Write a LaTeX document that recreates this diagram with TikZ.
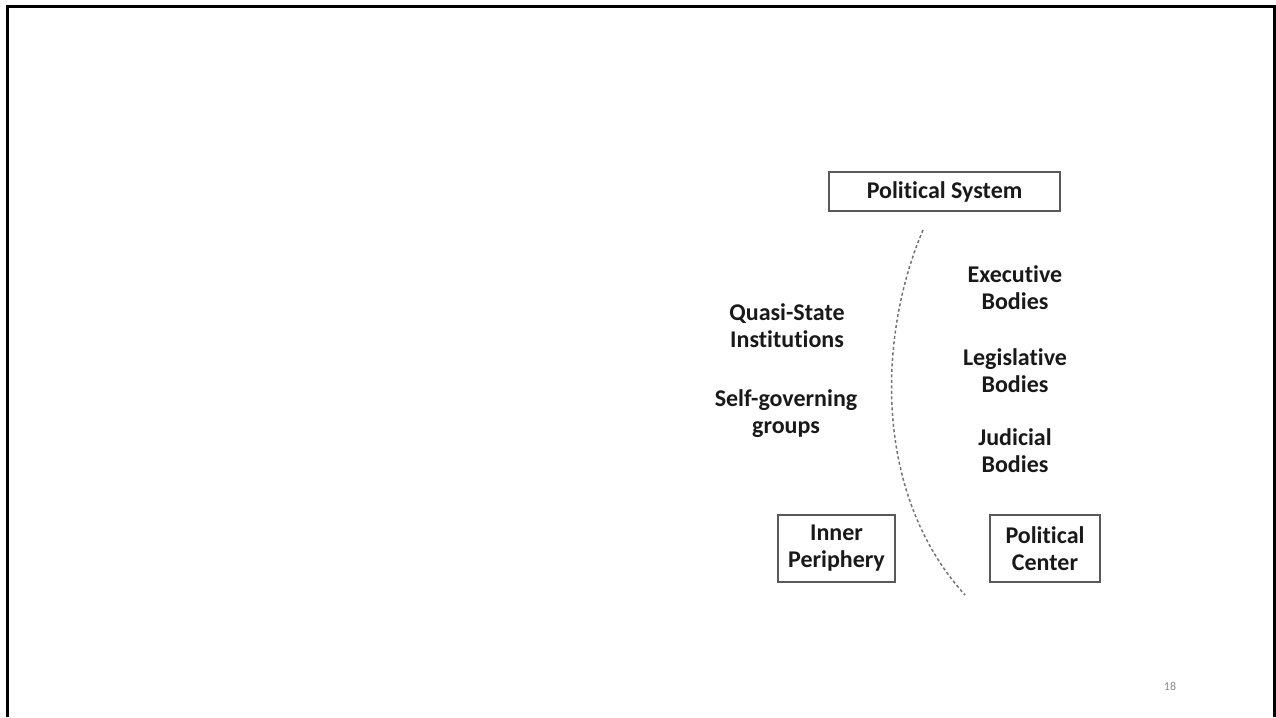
\documentclass[tikz,border=0pt]{standalone}
\usepackage{fontspec}
\setmainfont{Carlito}[Ligatures=NoCommon]
\begin{document}
\begin{tikzpicture}[x=1pt,y=-1pt,
  label text/.style={font=\bfseries\fontsize{24}{27}\selectfont, align=center, text=black!90, inner sep=0pt},
  framed/.style={label text, draw=black!65, line width=1.4pt, inner sep=0pt},
  border/.style={line width=3pt, black},
  divider/.style={black!55, line width=1.5pt, dash pattern=on 3pt off 2.5pt}
]
\useasboundingbox (0,0) rectangle (1276,717);
% slide frame (open at the bottom)
\draw[border] (7.5,717) -- (7.5,6.5) -- (1274.5,6.5) -- (1274.5,717);

% boxed headings
\node[framed, minimum width=231pt, minimum height=39pt] (sys) at (944.5,191.5) {Political System};
\node[framed, minimum width=117pt, minimum height=67pt] (inner) at (836.5,548.5) {Inner\\Periphery};
\node[framed, minimum width=110pt, minimum height=67pt] (center) at (1045,548.5) {Political\\Center};

% periphery side
\node[label text] (quasi) at (787,325.5) {Quasi-State\\Institutions};
\node[label text] (self) at (786,414) {Self-governing\\groups};

% center side
\node[label text] (exec) at (1015,288) {Executive\\Bodies};
\node[label text] (legis) at (1015,370.5) {Legislative\\Bodies};
\node[label text] (judic) at (1015,451) {Judicial\\Bodies};

% dashed boundary between periphery and center
\coordinate (btop) at (923,230);
\coordinate (bbot) at (965,595);
\draw[divider] (btop) .. controls (880,330) and (870,490) .. (bbot);

% page number
\node[font=\fontsize{12}{14}\selectfont, text=black!45, inner sep=0pt] (page) at (1170,686) {18};
\end{tikzpicture}
\end{document}
